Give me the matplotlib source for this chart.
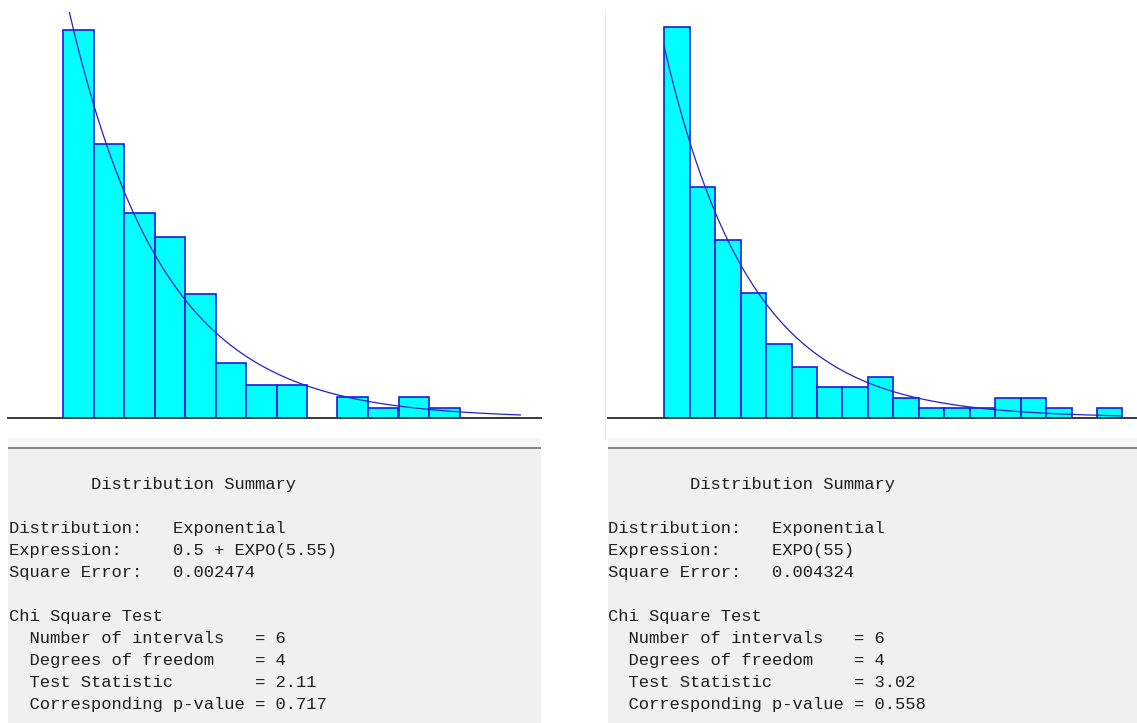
import numpy as np
import matplotlib
matplotlib.use("Agg")
import matplotlib.pyplot as plt
from matplotlib.patches import Rectangle

# ---------------- data ----------------
# Left fit: 0.5 + EXPO(5.55), 15 intervals of width 1.8 starting at 0.5
left_start = 0.5
left_width = 1.8
left_freq = [0.290, 0.2045, 0.153, 0.1353, 0.0928, 0.0415, 0.0249, 0.0249,
             0.0, 0.0161, 0.0075, 0.0161, 0.0075, 0.0, 0.0]
left_mean = 5.55

# Right fit: EXPO(55), 18 intervals
right_start = 0.0
right_width = 292.0 / 18
right_freq = [0.3106, 0.1835, 0.1416, 0.0994, 0.0584, 0.0406, 0.0242, 0.0242,
              0.0324, 0.0159, 0.0075, 0.0075, 0.0075, 0.0159, 0.0159, 0.0075,
              0.0, 0.0075]
right_mean = 55.0

left_lines = [
    "        Distribution Summary",
    "",
    "Distribution:   Exponential",
    "Expression:     0.5 + EXPO(5.55)",
    "Square Error:   0.002474",
    "",
    "Chi Square Test",
    "  Number of intervals   = 6",
    "  Degrees of freedom    = 4",
    "  Test Statistic        = 2.11",
    "  Corresponding p-value = 0.717",
]
right_lines = [
    "        Distribution Summary",
    "",
    "Distribution:   Exponential",
    "Expression:     EXPO(55)",
    "Square Error:   0.004324",
    "",
    "Chi Square Test",
    "  Number of intervals   = 6",
    "  Degrees of freedom    = 4",
    "  Test Statistic        = 3.02",
    "  Corresponding p-value = 0.558",
]

# ---------------- layout ----------------
W, H = 1137, 723
DPI = 100
fig = plt.figure(figsize=(W / DPI, H / DPI), dpi=DPI, facecolor="white")


def fx(px):
    return px / W


def fy(py):
    return 1 - py / H


BAR_FACE = "#00ffff"
BAR_EDGE = "#1a1ae6"
CURVE = "#2323c8"
TEXT = "#1e1e1e"


def draw_hist(ax_rect, start, width, freq, mean, xlim, ytop):
    l, t, r, b = ax_rect
    ax = fig.add_axes([fx(l), fy(b), fx(r - l), (b - t) / H])
    n = len(freq)
    edges = start + width * np.arange(n)
    ax.bar(edges, freq, width=width, align="edge", color=BAR_FACE,
           edgecolor=BAR_EDGE, linewidth=1.2, zorder=2)
    xs = np.linspace(start, start + width * n, 400)
    ys = width / mean * np.exp(-(xs - start) / mean)
    ax.plot(xs, ys, color=CURVE, linewidth=0.9, zorder=3)
    ax.set_xlim(*xlim)
    ax.set_ylim(0, ytop)
    for s in ("top", "left", "right"):
        ax.spines[s].set_visible(False)
    ax.spines["bottom"].set_color("#3a3a3a")
    ax.spines["bottom"].set_linewidth(1.4)
    ax.spines["bottom"].set_zorder(5)
    ax.set_xticks([])
    ax.set_yticks([])
    ax.patch.set_alpha(0)
    return ax


# left chart: px 8..541, top 12, baseline 418.3
lpx_per = 30.5 / left_width
l_xlim = ((8 - 63.0) / lpx_per + left_start, (541 - 63.0) / lpx_per + left_start)
draw_hist((8, 12, 541, 418.3), left_start, left_width, left_freq, left_mean,
          l_xlim, 406.3 / 1340)

# right chart: px 607.7..1137, top 10, baseline 417.7
rpx_per = 25.46 / right_width
r_xlim = ((607.7 - 664.2) / rpx_per + right_start, (1137 - 664.2) / rpx_per + right_start)
draw_hist((607.7, 10, 1137, 417.7), right_start, right_width, right_freq, right_mean,
          r_xlim, 407.7 / 1257)

# faint left border of right panel
fig.patches.append(Rectangle((fx(604.5), fy(440)), 1.5 / W, 430 / H,
                             transform=fig.transFigure, facecolor="#e8ecf6",
                             edgecolor="none", zorder=0))


def summary_panel(x0, x1, lines):
    # light strip
    fig.patches.append(Rectangle((fx(x0), fy(446.5)), (x1 - x0) / W, 8.5 / H,
                                 transform=fig.transFigure, facecolor="#f6f6f6",
                                 edgecolor="none", zorder=0))
    # dark separator
    fig.patches.append(Rectangle((fx(x0), fy(449.3)), (x1 - x0) / W, 2.8 / H,
                                 transform=fig.transFigure, facecolor="#878787",
                                 edgecolor="none", zorder=0))
    # panel
    fig.patches.append(Rectangle((fx(x0), fy(723)), (x1 - x0) / W, (723 - 449.3) / H,
                                 transform=fig.transFigure, facecolor="#f0f0f0",
                                 edgecolor="none", zorder=0))
    y = 483.3
    for line in lines:
        if line:
            fig.text(fx(x0 + 0.6), fy(y + 5.5), line, family="Liberation Mono",
                     fontsize=12.3, color=TEXT, va="baseline", ha="left")
        y += 22


summary_panel(8, 541, left_lines)
summary_panel(607.7, 1137, right_lines)

fig.savefig("out.png", dpi=DPI, facecolor="white")
